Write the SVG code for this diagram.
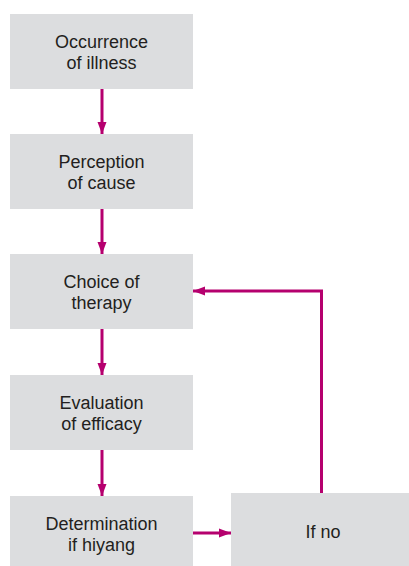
<svg xmlns="http://www.w3.org/2000/svg" width="409" height="566" viewBox="0 0 409 566">
<style>
.box{fill:#dcdddf}
.t{font-family:"Liberation Sans","Noto Sans",sans-serif;font-size:18px;fill:#231f20;text-anchor:middle}
.c{stroke:#b5006e;stroke-width:3;fill:none}
</style>
<defs>
<marker id="a" markerWidth="12" markerHeight="12" viewBox="0 0 16 12" refX="16" refY="6" orient="auto" markerUnits="userSpaceOnUse">
<path d="M0,0 L16,6 L0,12 Z" fill="#b5006e"/>
</marker>
</defs>
<g id="n1"><rect class="box" x="10" y="14" width="183" height="75"/><text class="t" x="101.5" y="47.5">Occurrence</text><text class="t" x="101.5" y="68.5">of illness</text></g>
<g id="n2"><rect class="box" x="10" y="134" width="183" height="75"/><text class="t" x="101.5" y="167.5">Perception</text><text class="t" x="101.5" y="188.5">of cause</text></g>
<g id="n3"><rect class="box" x="10" y="254" width="183" height="75"/><text class="t" x="101.5" y="287.5">Choice of</text><text class="t" x="101.5" y="308.5">therapy</text></g>
<g id="n4"><rect class="box" x="10" y="375" width="183" height="75"/><text class="t" x="101.5" y="408.5">Evaluation</text><text class="t" x="101.5" y="429.5">of efficacy</text></g>
<g id="n5"><rect class="box" x="10" y="496" width="183" height="70"/><text class="t" x="101.5" y="529.5">Determination</text><text class="t" x="101.5" y="550.5">if hiyang</text></g>
<g id="n6"><rect class="box" x="231" y="493" width="178" height="73"/><text class="t" x="323" y="538">If no</text></g>
<g id="connectors">
<line class="c" x1="102" y1="89" x2="102" y2="134" marker-end="url(#a)"/>
<line class="c" x1="102" y1="209" x2="102" y2="254" marker-end="url(#a)"/>
<line class="c" x1="102" y1="329" x2="102" y2="375" marker-end="url(#a)"/>
<line class="c" x1="102" y1="450" x2="102" y2="496" marker-end="url(#a)"/>
<line class="c" x1="193" y1="533" x2="231" y2="533" marker-end="url(#a)"/>
<polyline class="c" points="321.5,493 321.5,291 193,291" marker-end="url(#a)"/>
</g>
</svg>
